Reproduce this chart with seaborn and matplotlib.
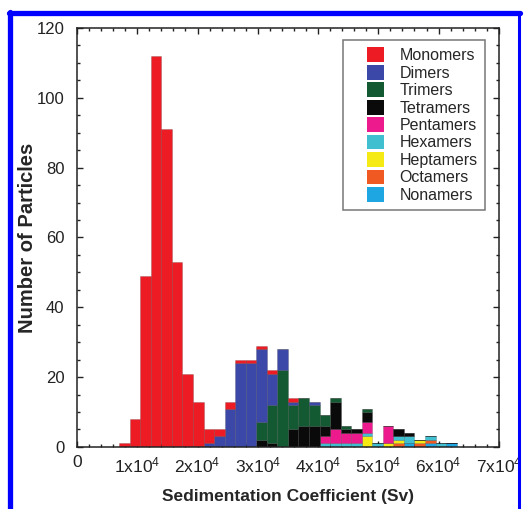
import numpy as np
import pandas as pd
import matplotlib
matplotlib.use("Agg")
import matplotlib.pyplot as plt
from matplotlib.patches import Patch
from matplotlib.legend_handler import HandlerPatch
from matplotlib.lines import Line2D
from matplotlib.ticker import MultipleLocator
import seaborn as sns

# 40 bins of 1750 Sv from 0 to 7x10^4, counts per species in each bin
edges = [1750 * i for i in range(41)]

species = ["Monomers", "Dimers", "Trimers", "Tetramers", "Pentamers",
           "Hexamers", "Heptamers", "Octamers", "Nonamers"]
colors = ["#ed1c24", "#3b48a8", "#135a32", "#0a0a0a", "#ec1a8c",
          "#3fbfd0", "#f5ea14", "#f05a22", "#1ea6e3"]

#             0  1  2  3  4  5  6   7    8   9  10  11 12 13 14  15  16  17 18  19 20 21 22 23 24 25 26 27 28 29 30 31 32 33 34 35 36 37 38 39
monomers  = [0, 0, 0, 0, 1, 8, 49, 112, 91, 53, 21, 13, 4, 2, 2,  1,  1,  1, 1,  0, 1, 0, 0, 0, 0, 0, 0, 0, 0, 0, 0, 0, 0, 0, 0, 0, 0, 0, 0, 0]
dimers    = [0, 0, 0, 0, 0, 0, 0,  0,   0,  0,  0,  0, 1, 3, 11, 24, 24, 21, 9,  6, 1, 0, 1, 0, 0, 0, 0, 0, 0, 0, 0, 0, 0, 0, 0, 0, 0, 0, 0, 0]
trimers   = [0, 0, 0, 0, 0, 0, 0,  0,   0,  0,  0,  0, 0, 0, 0,  0,  0,  5, 11, 22, 7, 8, 6, 3, 1, 1, 0, 1, 0, 0, 0, 0, 0, 0, 0, 0, 0, 0, 0, 0]
tetramers = [0, 0, 0, 0, 0, 0, 0,  0,   0,  0,  0,  0, 0, 0, 0,  0,  0,  2, 1,  0, 5, 6, 6, 3, 8, 1, 1, 3, 0, 0, 2, 1, 0, 0, 0, 0, 0, 0, 0, 0]
pentamers = [0, 0, 0, 0, 0, 0, 0,  0,   0,  0,  0,  0, 0, 0, 0,  0,  0,  0, 0,  0, 0, 0, 0, 2, 4, 3, 3, 3, 0, 5, 0, 0, 0, 0, 0, 0, 0, 0, 0, 0]
hexamers  = [0, 0, 0, 0, 0, 0, 0,  0,   0,  0,  0,  0, 0, 0, 0,  0,  0,  0, 0,  0, 0, 0, 0, 1, 1, 1, 1, 1, 1, 0, 1, 2, 0, 1, 1, 0, 0, 0, 0, 0]
heptamers = [0, 0, 0, 0, 0, 0, 0,  0,   0,  0,  0,  0, 0, 0, 0,  0,  0,  0, 0,  0, 0, 0, 0, 0, 0, 0, 0, 3, 0, 1, 1, 0, 1, 0, 0, 0, 0, 0, 0, 0]
octamers  = [0, 0, 0, 0, 0, 0, 0,  0,   0,  0,  0,  0, 0, 0, 0,  0,  0,  0, 0,  0, 0, 0, 0, 0, 0, 0, 0, 0, 0, 0, 1, 0, 1, 1, 0, 0, 0, 0, 0, 0]
nonamers  = [0, 0, 0, 0, 0, 0, 0,  0,   0,  0,  0,  0, 0, 0, 0,  0,  0,  0, 0,  0, 0, 0, 0, 0, 0, 0, 0, 0, 0, 0, 0, 1, 0, 1, 0, 1, 0, 0, 0, 0]

counts = [monomers, dimers, trimers, tetramers, pentamers,
          hexamers, heptamers, octamers, nonamers]

centers = [(a + b) / 2 for a, b in zip(edges[:-1], edges[1:])]
rows = []
for name, vals in zip(species, counts):
    for c, n in zip(centers, vals):
        if n > 0:
            rows.append({"s": c, "n": n, "species": name})
df = pd.DataFrame(rows)

sns.set_style("ticks")
plt.rcParams["font.family"] = ["Liberation Sans", "DejaVu Sans"]
plt.rcParams["mathtext.fontset"] = "custom"
plt.rcParams["mathtext.rm"] = "Liberation Sans"
plt.rcParams["mathtext.it"] = "Liberation Sans:italic"
plt.rcParams["mathtext.bf"] = "Liberation Sans:bold"

fig = plt.figure(figsize=(5.24, 5.09), dpi=100)
ax = fig.add_axes([0.147, 0.122, 0.805, 0.823])

sns.histplot(data=df, x="s", weights="n", hue="species", hue_order=species,
             palette=colors, multiple="stack", bins=edges, alpha=1,
             edgecolor=(0, 0, 0, 0.22), linewidth=0.5, legend=False, ax=ax)

ax.set_xlim(0, 70000)
ax.set_ylim(0, 120)
ax.xaxis.set_minor_locator(MultipleLocator(2000))
ax.yaxis.set_major_locator(MultipleLocator(20))
ax.yaxis.set_minor_locator(MultipleLocator(5))
xt = list(range(0, 70001, 10000))
ax.set_xticks(xt)
ax.set_xticklabels(["0"] + [r"%dx10$^{4}$" % (v // 10000) for v in xt[1:]])

ax.tick_params(which="both", direction="in", top=True, right=True,
               labelsize=12, colors="#222222", width=1)
ax.tick_params(axis="x", labelsize=12.5, pad=6)
ax.tick_params(which="major", length=4.5)
ax.tick_params(which="minor", length=2.5)
ax.tick_params(axis="y", pad=9)
for sp in ax.spines.values():
    sp.set_linewidth(1.1)
    sp.set_color("#222222")

ax.set_xlabel("Sedimentation Coefficient (Sv)", fontsize=12.5,
              fontweight="bold", labelpad=10)
ax.set_ylabel("Number of Particles", fontsize=14.5, fontweight="bold",
              labelpad=0)

handles = [Patch(facecolor=c, edgecolor="none", label=s)
           for s, c in zip(species, colors)]
leg = ax.legend(handles=handles, loc="upper right",
                bbox_to_anchor=(0.967, 0.971), fontsize=11.5,
                handlelength=2.1, handleheight=1.05, handletextpad=1.0,
                labelspacing=0.1, borderpad=0.45, borderaxespad=0,
                frameon=True, fancybox=False,
                handler_map={Patch: HandlerPatch(xpad=1.04)})
leg.get_frame().set_edgecolor("#555555")
leg.get_frame().set_linewidth(1.1)

# blue frame around the figure
fig.add_artist(Line2D([0.02, 0.02], [0, 0.976], color="#0000ff", lw=3.8,
                      transform=fig.transFigure))
fig.add_artist(Line2D([0.0165, 0.992], [0.974, 0.974], color="#0000ff",
                      lw=3.8, transform=fig.transFigure))
fig.add_artist(Line2D([0.99, 0.99], [0, 0.976], color="#0000ff", lw=2.2,
                      transform=fig.transFigure))

fig.savefig("out.png", dpi=100)
